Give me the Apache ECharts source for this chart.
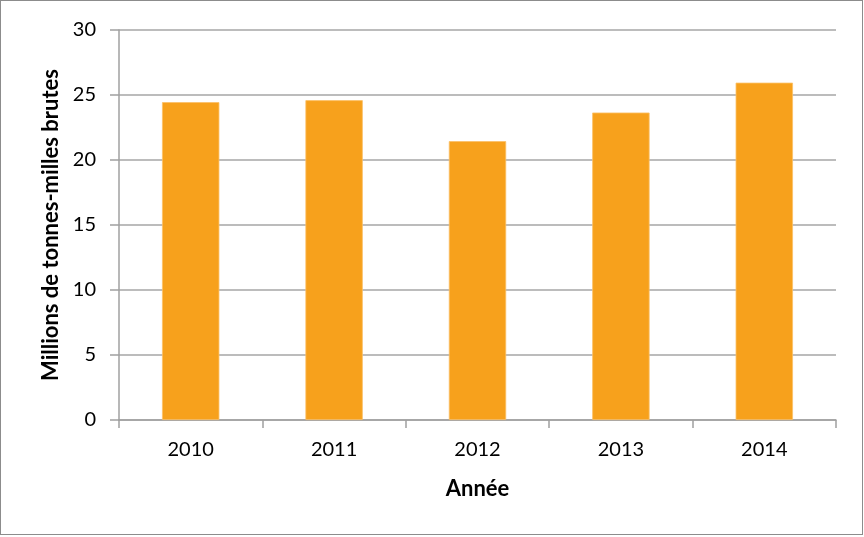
<!DOCTYPE html>
<html>
<head>
<meta charset="utf-8">
<script src="https://cdn.jsdelivr.net/npm/echarts@6/dist/echarts.min.js"></script>
<style>
html,body{margin:0;padding:0;background:#fff;}
#wrap{position:absolute;left:0;top:0;width:863px;height:535px;box-sizing:border-box;border:1px solid #8c8c8c;}
#chart{position:absolute;left:0;top:0;width:864px;height:537px;}
</style>
</head>
<body>
<div id="wrap"></div>
<div id="chart"></div>
<script>
const categories = ['2010', '2011', '2012', '2013', '2014'];
const values = [24.45, 24.6, 21.45, 23.65, 25.95];
const yTicks = { min: 0, max: 30, interval: 5 };
const xTitle = 'Année';
const yTitle = 'Millions de tonnes-milles brutes';

const chart = echarts.init(document.getElementById('chart'), null, { renderer: 'canvas' });
const font = 'Lato, "Open Sans", sans-serif';
chart.setOption({
  animation: false,
  backgroundColor: 'transparent',
  grid: { left: 119, right: 28, top: 30, bottom: 117, containLabel: false },
  xAxis: {
    type: 'category',
    data: categories,
    name: xTitle,
    nameLocation: 'middle',
    nameGap: 58,
    nameTextStyle: { fontFamily: font, fontSize: 22, fontWeight: 'bold', color: '#000' },
    axisLine: { lineStyle: { color: '#a0a0a0', width: 1.5 } },
    axisTick: { show: true, alignWithLabel: false, length: 8, lineStyle: { color: '#a0a0a0', width: 1.5 } },
    axisLabel: { fontFamily: font, fontSize: 20, color: '#000', margin: 20 }
  },
  yAxis: {
    type: 'value',
    min: yTicks.min, max: yTicks.max, interval: yTicks.interval,
    name: yTitle,
    nameLocation: 'middle',
    nameGap: 56,
    nameRotate: 90,
    nameTextStyle: { fontFamily: font, fontSize: 22, fontWeight: 'bold', color: '#000' },
    axisLine: { show: true, lineStyle: { color: '#a0a0a0', width: 1.5 } },
    axisTick: { show: true, length: 9, lineStyle: { color: '#a0a0a0', width: 1.5 } },
    axisLabel: { fontFamily: font, fontSize: 20, color: '#000', margin: 23 },
    splitLine: { show: true, lineStyle: { color: '#a6a6a6', width: 1.5 } }
  },
  series: [{
    type: 'bar',
    data: values,
    barWidth: '40%',
    itemStyle: { color: '#F7A11C', borderColor: '#FBC067', borderWidth: 0.8 }
  }]
});
</script>
</body>
</html>
